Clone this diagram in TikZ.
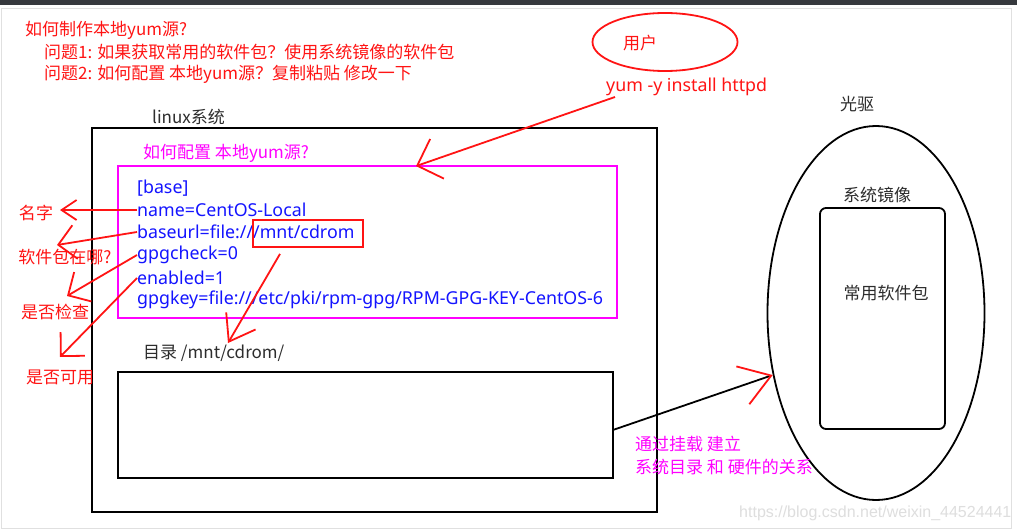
\documentclass[tikz,border=0pt]{standalone}
\usepackage{fontspec}
\usepackage{xcolor}
\usepackage{tikz}
\usetikzlibrary{shapes.geometric,arrows.meta,positioning,calc}
\newfontfamily\cjk{Noto Sans CJK SC}
\newfontfamily\latin{Noto Sans}
\newfontfamily\wmfont{Liberation Sans}
\definecolor{penred}{RGB}{255,20,20}
\definecolor{penpink}{RGB}{255,0,255}
\definecolor{penblue}{RGB}{20,20,255}
\definecolor{inkgray}{RGB}{45,45,45}
\definecolor{barcolor}{RGB}{54,57,62}

\begin{document}
\begin{tikzpicture}[
    x=1pt, y=-1pt,
    note/.style={font=\cjk\fontsize{17}{20}\selectfont, inner sep=0pt, anchor=west, text=inkgray},
    rednote/.style={note, text=penred},
    pinknote/.style={note, text=penpink},
    cfgline/.style={font=\latin\fontsize{17.8}{20}\selectfont, text=penblue, inner sep=0pt, anchor=west},
    frame/.style={rectangle, draw=black, line width=1.8pt, inner sep=0pt},
    pen/.style={draw=penred, line width=1.8pt, -{Straight Barb[length=17pt, width=34pt]}}
]
\useasboundingbox (0,0) rectangle (1017,532);
\fill[white] (0,0) rectangle (1017,532);
\fill[barcolor] (0,0) rectangle (1017,5);
\draw[black!12, line width=1pt] (1.5,9) rectangle (1011,528);

% Questions
\node[rednote] (title) at (25,30) {如何制作本地yum源?};
\node[rednote] (q1) at (44,52) {问题1: 如果获取常用的软件包？使用系统镜像的软件包};
\node[rednote] (q2) at (44,74) {问题2: 如何配置 本地yum源？复制粘贴 修改一下};

% User
\node[ellipse, draw=penred, line width=1.8pt, minimum width=145pt, minimum height=58pt, inner sep=0pt] (user) at (665,42) {};
\node[rednote, anchor=center] (userlbl) at (640,43) {用户};
\node[rednote, font=\latin\fontsize{17.8}{20}\selectfont] (yumcmd) at (606,87) {yum -y install httpd};

% Linux system
\node[note] (linuxlbl) at (152,117) {linux系统};
\node[frame, minimum width=565pt, minimum height=384pt] (linux) at (374.5,320) {};
\node[pinknote] (cfgq) at (143,153) {如何配置 本地yum源?};
\node[frame, draw=penpink, minimum width=499pt, minimum height=152pt] (cfgbox) at (367.5,242) {};
\node[cfgline] (cfgbase) at (137,188) {[base]};
\node[cfgline] (cfgname) at (137,210) {name=CentOS-Local};
\node[cfgline] (cfgurl) at (137,232) {baseurl=file:///mnt/cdrom};
\node[cfgline] (cfgcheck) at (137,255) {gpgcheck=0};
\node[cfgline] (cfgenabled) at (137,278) {enabled=1};
\node[cfgline] (cfgkey) at (137,300) {gpgkey=file:///etc/pki/rpm-gpg/RPM-GPG-KEY-CentOS-6};
\node[frame, draw=penred, minimum width=110pt, minimum height=27pt] (mntbox) at (308,233.5) {};
\node[note] (dirlbl) at (143,353) {目录 /mnt/cdrom/};
\node[frame, minimum width=495pt, minimum height=106pt] (dirbox) at (365.5,425) {};

% Side notes
\node[rednote, anchor=center] (lblname) at (36,213) {名字};
\node[rednote, anchor=center] (lblwhere) at (65,257) {软件包在哪?};
\node[rednote, anchor=center] (lblcheck) at (55,312) {是否检查};
\node[rednote, anchor=center] (lblavail) at (60,377) {是否可用};

% CD-ROM
\node[note, anchor=center] (cdromlbl) at (857,104) {光驱};
\node[ellipse, draw, line width=1.8pt, minimum width=217pt, minimum height=374pt, inner sep=0pt] (cdrom) at (876,313) {};
\node[note, anchor=center] (isolbl) at (877,195) {系统镜像};
\node[frame, rounded corners=6pt, minimum width=125pt, minimum height=221pt] (iso) at (882.5,318.5) {};
\node[note, anchor=center] (pkglbl) at (886,293) {常用软件包};

\node[pinknote] (mount1) at (635,444) {通过挂载 建立};
\node[pinknote] (mount2) at (635,467) {系统目录 和 硬件的关系};

\node[anchor=west, inner sep=0pt, text=black!13, font=\wmfont\fontsize{16}{20}\selectfont] (mark) at (739,513) {https://blog.csdn.net/weixin\_44524441};

% Arrows
\draw[pen, -{Straight Barb[length=15pt, width=20pt]}] (cfgname.west) -- ($(lblname.center)+(24,-3)$);
\draw[pen] (cfgurl.west) -- ($(lblwhere.center)+(-8,-12)$);
\draw[pen] (cfgcheck.west) -- ($(lblcheck.center)+(12,-16)$);
\draw[pen] (cfgenabled.west) -- ($(lblavail.center)+(0,-20)$);
\draw[pen, -{Straight Barb[length=24pt, width=34pt]}] ($(mntbox.south)+(-28,6)$) -- ($(dirlbl.west)+(85,-10)$);
\draw[pen, -{Straight Barb[length=21pt, width=42pt]}] ($(yumcmd.west)+(9,10)$) -- ($(cfgbox.north)+(48.5,1)$);
\draw[line width=1.8pt, -{Straight Barb[color=penred, length=30pt, width=40pt]}] ($(dirbox.east)+(-1,5)$) -- (cdrom.211);

\end{tikzpicture}
\end{document}
